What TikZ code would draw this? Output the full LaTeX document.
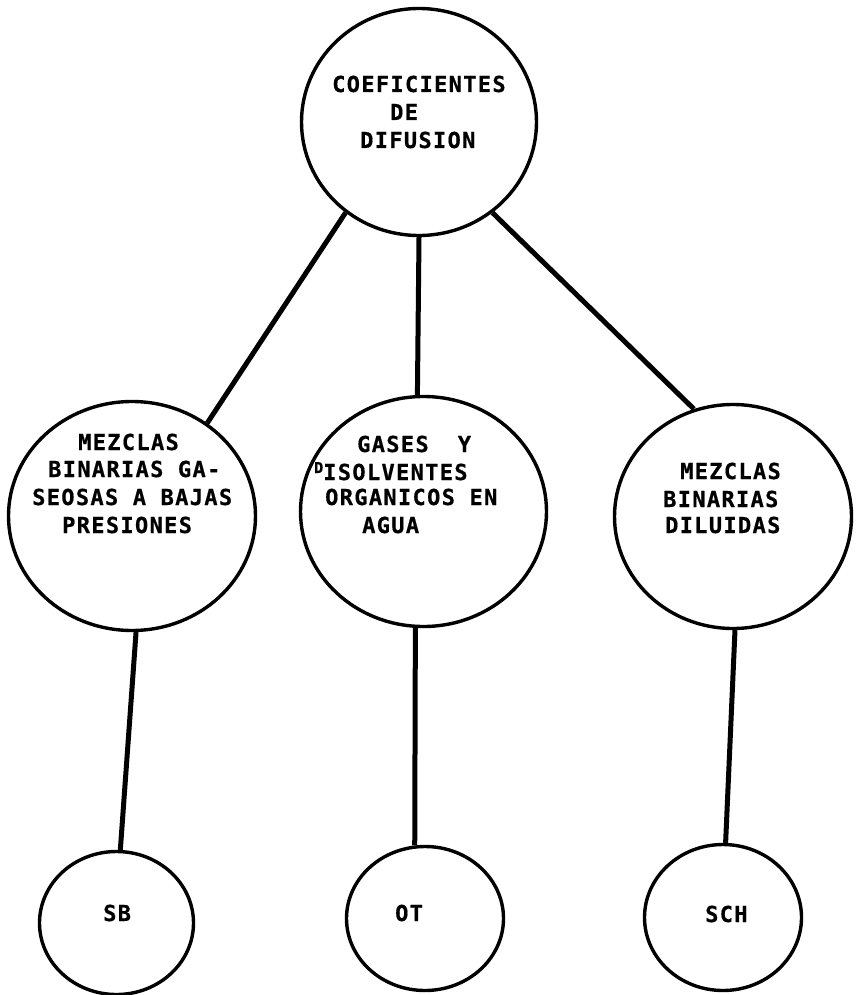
\documentclass[tikz,border=0pt]{standalone}
\usepackage{fontspec}
\usetikzlibrary{shapes.geometric}
\newfontfamily\letra[LetterSpace=6,FakeBold=0.6]{DejaVu Sans Mono}
\begin{document}
\begin{tikzpicture}[x=1pt,y=-1pt,
  burbuja/.style={draw,ellipse,line width=3.4pt,inner sep=0pt},
  rama/.style={line width=5pt},
  rotulo/.style={anchor=base west,inner sep=0pt,
    font={\letra\bfseries\fontsize{22}{22}\selectfont}}]
\useasboundingbox (0,0) rectangle (856,995);

% circles
\node[burbuja,minimum width=235pt,minimum height=227pt] (raiz) at (419,122) {};
\node[burbuja,minimum width=247pt,minimum height=229pt] (gas) at (132,516) {};
\node[burbuja,minimum width=246pt,minimum height=230pt] (org) at (423.5,511.5) {};
\node[burbuja,minimum width=237pt,minimum height=224pt] (dil) at (733,516.5) {};
\node[burbuja,minimum width=154pt,minimum height=143pt] (sb) at (116.5,923) {};
\node[burbuja,minimum width=157pt,minimum height=144pt] (ot) at (425,918.5) {};
\node[burbuja,minimum width=157pt,minimum height=146pt] (sch) at (723,917.5) {};

% connecting lines
\draw[rama] (raiz.231) -- (gas.51);
\draw[rama] (raiz.270) -- (org.93);
\draw[rama] (raiz.309) -- (dil.110);
\draw[rama] (gas.272.5) -- (sb.87);
\draw[rama] (org.266.5) -- (ot.98);
\draw[rama] (dil.271) -- (sch.88);

% lettering
\node[rotulo] (r1) at (332,92) {COEFICIENTES};
\node[rotulo] (r2) at (390,120) {DE};
\node[rotulo] (r3) at (360,148) {DIFUSION};

\node[rotulo] (g1) at (78,450) {MEZCLAS};
\node[rotulo] (g2) at (48,477) {BINARIAS\ GA-};
\node[rotulo] (g3) at (32,505) {SEOSAS\ A\ BAJAS};
\node[rotulo] (g4) at (62,533) {PRESIONES};

\node[rotulo] (o1) at (357,452) {GASES\ \ Y};
\node[rotulo] (o2) at (314,480) {\raisebox{7pt}{\fontsize{15}{15}\selectfont D}ISOLVENTES};
\node[rotulo] (o3) at (325,505) {ORGANICOS\ EN};
\node[rotulo] (o4) at (362,533) {AGUA};

\node[rotulo] (d1) at (680,479) {MEZCLAS};
\node[rotulo] (d2) at (663,507) {BINARIAS};
\node[rotulo] (d3) at (665,533) {DILUIDAS};

\node[rotulo] (s1) at (103,921) {SB};
\node[rotulo] (s2) at (395,921) {OT};
\node[rotulo] (s3) at (705,922) {SCH};
\end{tikzpicture}
\end{document}
